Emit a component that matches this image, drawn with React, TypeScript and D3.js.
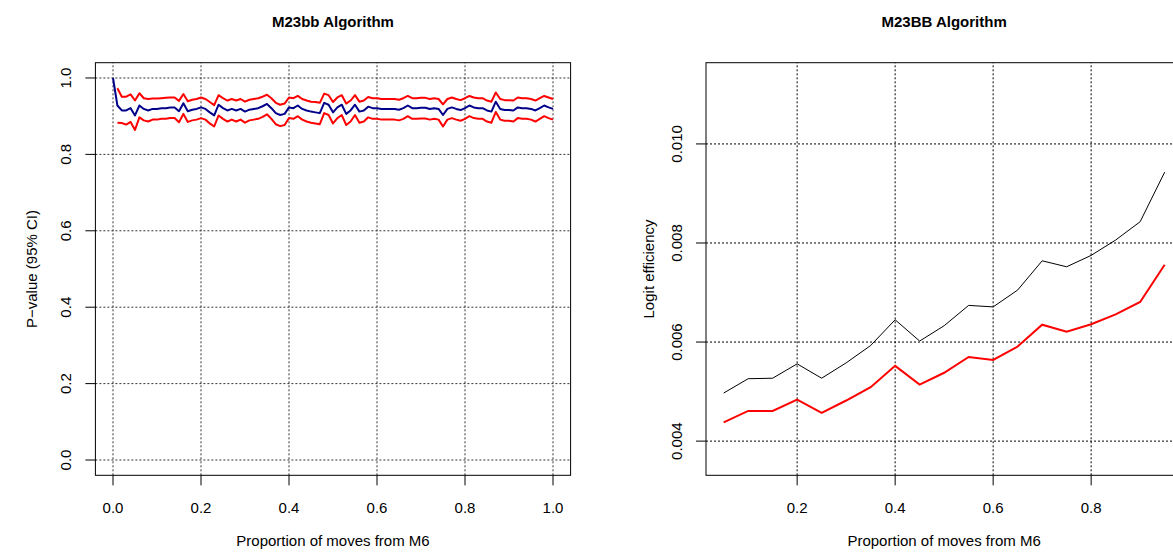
import React, { useEffect, useRef } from 'react';
import * as d3 from 'd3';

// Left panel: p-value (mean + 95% CI) against proportion of moves from M6 (0.00 .. 1.00 by 0.01)
const pvalMean = [
  1.000, 0.928, 0.915, 0.915, 0.921, 0.902, 0.928, 0.919, 0.915, 0.919,
  0.919, 0.921, 0.921, 0.923, 0.923, 0.913, 0.934, 0.913, 0.917, 0.919,
  0.923, 0.919, 0.910, 0.902, 0.930, 0.921, 0.915, 0.919, 0.915, 0.919,
  0.912, 0.917, 0.919, 0.921, 0.926, 0.932, 0.921, 0.908, 0.903, 0.906,
  0.923, 0.921, 0.928, 0.919, 0.915, 0.912, 0.910, 0.908, 0.935, 0.930,
  0.910, 0.923, 0.930, 0.906, 0.915, 0.930, 0.912, 0.915, 0.925, 0.921,
  0.921, 0.919, 0.919, 0.919, 0.919, 0.917, 0.921, 0.928, 0.921, 0.921,
  0.922, 0.922, 0.919, 0.921, 0.919, 0.903, 0.919, 0.923, 0.919, 0.916,
  0.921, 0.928, 0.923, 0.921, 0.921, 0.915, 0.912, 0.938, 0.919, 0.916,
  0.916, 0.915, 0.923, 0.921, 0.921, 0.919, 0.915, 0.921, 0.928, 0.923,
  0.919,
];

// CI bounds start at 0.01 (none at 0.00)
const pvalUpper = [
  0.973, 0.951, 0.951, 0.957, 0.941, 0.960, 0.947, 0.945, 0.946, 0.946,
  0.947, 0.948, 0.949, 0.949, 0.940, 0.958, 0.939, 0.943, 0.945, 0.949,
  0.945, 0.937, 0.929, 0.955, 0.947, 0.941, 0.945, 0.941, 0.945, 0.938,
  0.943, 0.945, 0.947, 0.951, 0.956, 0.947, 0.935, 0.930, 0.933, 0.949,
  0.947, 0.953, 0.945, 0.941, 0.938, 0.937, 0.935, 0.959, 0.955, 0.937,
  0.949, 0.955, 0.933, 0.941, 0.955, 0.938, 0.941, 0.950, 0.947, 0.947,
  0.945, 0.945, 0.945, 0.945, 0.943, 0.947, 0.953, 0.947, 0.947, 0.948,
  0.948, 0.945, 0.947, 0.945, 0.931, 0.945, 0.949, 0.945, 0.942, 0.947,
  0.953, 0.949, 0.947, 0.947, 0.941, 0.938, 0.962, 0.945, 0.942, 0.942,
  0.941, 0.949, 0.947, 0.947, 0.945, 0.941, 0.947, 0.953, 0.949, 0.945,
];

const pvalLower = [
  0.883, 0.882, 0.878, 0.885, 0.864, 0.897, 0.889, 0.886, 0.891, 0.891,
  0.893, 0.893, 0.895, 0.895, 0.884, 0.906, 0.885, 0.889, 0.891, 0.895,
  0.891, 0.881, 0.873, 0.902, 0.893, 0.886, 0.891, 0.886, 0.891, 0.883,
  0.889, 0.891, 0.893, 0.898, 0.905, 0.893, 0.879, 0.874, 0.877, 0.895,
  0.893, 0.900, 0.891, 0.886, 0.883, 0.881, 0.879, 0.908, 0.903, 0.881,
  0.895, 0.903, 0.877, 0.886, 0.903, 0.883, 0.886, 0.897, 0.893, 0.893,
  0.891, 0.891, 0.891, 0.891, 0.889, 0.893, 0.900, 0.893, 0.893, 0.894,
  0.894, 0.891, 0.893, 0.891, 0.873, 0.891, 0.895, 0.891, 0.888, 0.893,
  0.900, 0.895, 0.893, 0.893, 0.886, 0.883, 0.911, 0.891, 0.888, 0.888,
  0.886, 0.895, 0.893, 0.893, 0.891, 0.886, 0.893, 0.900, 0.895, 0.891,
];

// Right panel: logit efficiency
const propRight = [0.05, 0.10, 0.15, 0.20, 0.25, 0.30, 0.35, 0.40, 0.45, 0.50,
  0.55, 0.60, 0.65, 0.70, 0.75, 0.80, 0.85, 0.90, 0.95];
const effBlack = [0.00497, 0.00526, 0.00527, 0.00556, 0.00527, 0.00558, 0.00593, 0.00645, 0.00602, 0.00633,
  0.00674, 0.00671, 0.00705, 0.00764, 0.00752, 0.00775, 0.00806, 0.00843, 0.00943];
const effRed = [0.00438, 0.00461, 0.00461, 0.00484, 0.00457, 0.00482, 0.00509, 0.00552, 0.00514, 0.00538,
  0.00570, 0.00564, 0.00591, 0.00635, 0.00621, 0.00636, 0.00656, 0.00681, 0.00756];

const leftXTicks = [0, 0.2, 0.4, 0.6, 0.8, 1.0];
const leftYTicks = [0, 0.2, 0.4, 0.6, 0.8, 1.0];
const rightXTicks = [0.2, 0.4, 0.6, 0.8]; // 1.0 falls past the page edge
const rightYTicks = [0.004, 0.006, 0.008, 0.010];

const FONT = 'Liberation Sans, Arial, Helvetica, sans-serif';

const App = () => {
  const svgRef = useRef(null);

  useEffect(() => {
    const svg = d3.select(svgRef.current);
    svg.selectAll('*').remove();

    const drawPanel = (opts) => {
      const { x, y, xTicks, yTicks, fmtX, fmtY, title, xLabel, yLabel, yLabelOff, gridColor } = opts;
      const [x0, x1] = x.range();
      const [y0, y1] = y.range(); // y0 bottom, y1 top
      const g = svg.append('g');

      // grid (R grid(): dotted at tick positions)
      g.selectAll('.hgrid').data(yTicks).join('line')
        .attr('x1', x0).attr('x2', x1)
        .attr('y1', d => y(d)).attr('y2', d => y(d))
        .attr('stroke', gridColor).attr('stroke-dasharray', '2,2').attr('stroke-width', 1);
      g.selectAll('.vgrid').data(xTicks).join('line')
        .attr('x1', d => x(d)).attr('x2', d => x(d))
        .attr('y1', y0).attr('y2', y1)
        .attr('stroke', gridColor).attr('stroke-dasharray', '2,2').attr('stroke-width', 1);

      // box
      g.append('rect')
        .attr('x', x0).attr('y', y1)
        .attr('width', x1 - x0).attr('height', y0 - y1)
        .attr('fill', 'none').attr('stroke', '#000').attr('stroke-width', 1);

      // x ticks + labels
      g.selectAll('.xt').data(xTicks).join('line')
        .attr('x1', d => x(d)).attr('x2', d => x(d))
        .attr('y1', y0).attr('y2', y0 + 10)
        .attr('stroke', '#000');
      g.selectAll('.xl').data(xTicks).join('text')
        .attr('x', d => x(d)).attr('y', y0 + 38)
        .attr('text-anchor', 'middle')
        .attr('font-family', FONT).attr('font-size', 15)
        .text(d => fmtX(d));

      // y ticks + rotated labels
      g.selectAll('.yt').data(yTicks).join('line')
        .attr('x1', x0).attr('x2', x0 - 10)
        .attr('y1', d => y(d)).attr('y2', d => y(d))
        .attr('stroke', '#000');
      g.selectAll('.yl').data(yTicks).join('text')
        .attr('transform', d => `translate(${x0 - 24},${y(d)}) rotate(-90)`)
        .attr('text-anchor', 'middle')
        .attr('font-family', FONT).attr('font-size', 15)
        .text(d => fmtY(d));

      // title and axis titles
      svg.append('text')
        .attr('x', (x0 + x1) / 2).attr('y', 27)
        .attr('text-anchor', 'middle')
        .attr('font-family', FONT).attr('font-size', 15).attr('font-weight', 'bold')
        .text(title);
      svg.append('text')
        .attr('x', (x0 + x1) / 2).attr('y', 546)
        .attr('text-anchor', 'middle')
        .attr('font-family', FONT).attr('font-size', 15)
        .text(xLabel);
      svg.append('text')
        .attr('transform', `translate(${x0 - yLabelOff},${(y0 + y1) / 2}) rotate(-90)`)
        .attr('text-anchor', 'middle')
        .attr('font-family', FONT).attr('font-size', 15)
        .text(yLabel);

      return g;
    };

    // ----- left panel -----
    const xL = d3.scaleLinear().domain([-0.04, 1.04]).range([95.4, 570.6]);
    const yL = d3.scaleLinear().domain([-0.04, 1.04]).range([475.3, 62.7]);
    const gL = drawPanel({
      x: xL, y: yL, xTicks: leftXTicks, yTicks: leftYTicks,
      fmtX: d3.format('.1f'), fmtY: d3.format('.1f'),
      title: 'M23bb Algorithm', xLabel: 'Proportion of moves from M6',
      yLabel: 'P\u2212value (95% CI)', yLabelOff: 58, gridColor: '#333',
    });

    const meanPts = pvalMean.map((v, i) => [i / 100, v]);
    const upPts = pvalUpper.map((v, i) => [(i + 1) / 100, v]);
    const loPts = pvalLower.map((v, i) => [(i + 1) / 100, v]);
    const lineL = d3.line().x(d => xL(d[0])).y(d => yL(d[1]));

    [upPts, loPts].forEach(pts => {
      gL.append('path').datum(pts)
        .attr('d', lineL)
        .attr('fill', 'none').attr('stroke', '#ff0000').attr('stroke-width', 2)
        .attr('stroke-linejoin', 'round');
    });
    gL.append('path').datum(meanPts)
      .attr('d', lineL)
      .attr('fill', 'none').attr('stroke', '#00008b').attr('stroke-width', 2)
      .attr('stroke-linejoin', 'round');

    // ----- right panel (box runs past the page edge) -----
    const xR = d3.scaleLinear().domain([0.014, 0.986]).range([706, 1182.3]);
    const yR = d3.scaleLinear().domain([0.00331, 0.01164]).range([475.3, 62.7]);
    const gR = drawPanel({
      x: xR, y: yR, xTicks: rightXTicks, yTicks: rightYTicks,
      fmtX: d3.format('.1f'), fmtY: d3.format('.3f'),
      title: 'M23BB Algorithm', xLabel: 'Proportion of moves from M6',
      yLabel: 'Logit efficiency', yLabelOff: 52, gridColor: '#000',
    });

    const lineR = d3.line().x((d, i) => xR(propRight[i])).y(d => yR(d));
    gR.append('path').datum(effBlack)
      .attr('d', lineR)
      .attr('fill', 'none').attr('stroke', '#000').attr('stroke-width', 1);
    gR.append('path').datum(effRed)
      .attr('d', lineR)
      .attr('fill', 'none').attr('stroke', '#ff0000').attr('stroke-width', 2);
  }, []);

  return (
    <svg ref={svgRef} width="1173" height="558"
      style={{ position: 'absolute', left: 0, top: 0, background: '#fff' }}></svg>
  );
};

export default App;
